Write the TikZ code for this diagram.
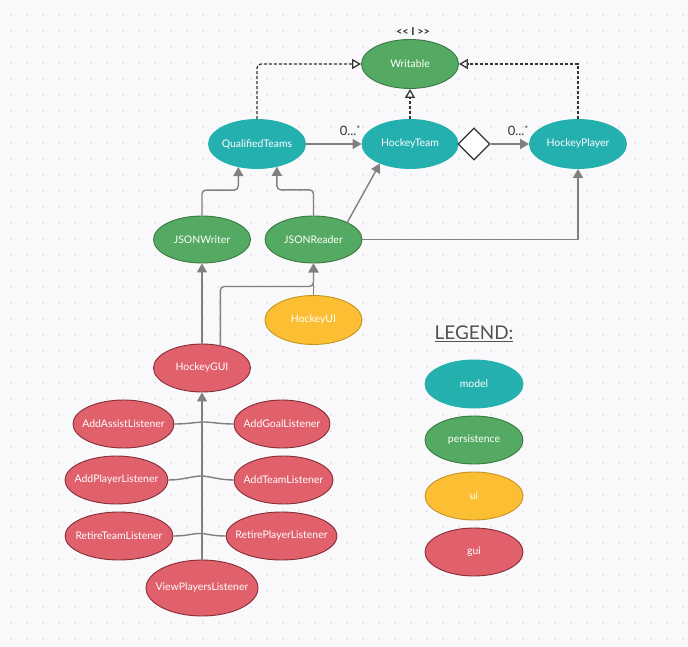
\documentclass[tikz,border=0pt]{standalone}
\usepackage{fontspec}
\setmainfont{Lato}
\usetikzlibrary{shapes.geometric,arrows.meta,calc}
\definecolor{bg}{HTML}{F9F9FB}
\definecolor{dotc}{HTML}{D8D8DE}
\definecolor{mteal}{RGB}{36,176,175}
\definecolor{mgreen}{RGB}{84,170,98}
\definecolor{mgreenb}{RGB}{56,122,64}
\definecolor{myel}{RGB}{252,190,50}
\definecolor{myelb}{RGB}{196,148,40}
\definecolor{mred}{RGB}{224,96,108}
\definecolor{mredb}{RGB}{132,46,56}
\definecolor{mgray}{RGB}{128,128,128}
\definecolor{dk}{RGB}{51,51,51}
\newcommand{\lbl}[1]{\makebox[0pt]{#1}}
\tikzset{
  ell/.style={ellipse, minimum width=97bp, minimum height=49bp, inner sep=0pt,
    text=white, font=\fontsize{10.5}{12}\selectfont, line width=0.9bp},
  model/.style={ell, fill=mteal, draw=mteal},
  pers/.style={ell, fill=mgreen, draw=mgreenb},
  uis/.style={ell, fill=myel, draw=myelb},
  guis/.style={ell, fill=mred, draw=mredb},
  conn/.style={draw=mgray, line width=1.4bp, -{Triangle[length=9bp,width=10bp]}},
  wire/.style={draw=mgray, line width=1.4bp},
  real/.style={draw=dk, line width=1.3bp, dash pattern=on 3bp off 2bp,
    -{Triangle[open,length=9bp,width=10bp,fill=white]}},
  mult/.style={text=dk, font=\fontsize{13}{14}\selectfont, inner sep=0pt}
}
\begin{document}
\begin{tikzpicture}[x=1bp,y=-1bp]
\fill[bg] (0,0) rectangle (688,647);
\useasboundingbox (0,0) rectangle (688,647);
\foreach \i in {0,...,42} \foreach \j in {0,...,39}
  \fill[dotc] (11+16*\i,15+16*\j) circle (0.8);

% nodes
\node[pers] (wr) at (410,64) {\lbl{Writable}};
\node[text=dk, font=\bfseries\fontsize{11}{12}\selectfont, inner sep=0pt] (st) at (413,32) {<{}< I >{}>};
\node[model] (qt) at (257,144) {\lbl{QualifiedTeams}};
\node[model, minimum width=96bp] (ht) at (410,144) {\lbl{HockeyTeam}};
\node[model] (hp) at (578,144) {\lbl{HockeyPlayer}};
\node[diamond, draw=dk, fill=white, line width=1.3bp, minimum width=32bp, minimum height=32bp, inner sep=0pt] (dm) at (474,144) {};
\node[pers, minimum height=47bp] (jw) at (202,239.5) {\lbl{JSONWriter}};
\node[pers, minimum height=47bp] (jr) at (313.5,239.5) {\lbl{JSONReader}};
\node[uis] (hui) at (313.5,320) {\lbl{HockeyUI}};
\node[guis, minimum height=48bp] (hg) at (202,368) {\lbl{HockeyGUI}};
\node[guis, minimum width=101bp, minimum height=48bp] (aal) at (123.5,424) {\lbl{AddAssistListener}};
\node[guis, minimum width=96bp, minimum height=48bp] (agl) at (282,424) {\lbl{AddGoalListener}};
\node[guis, minimum width=103bp, minimum height=48bp] (apl) at (116.5,480) {\lbl{AddPlayerListener}};
\node[guis, minimum width=99bp, minimum height=48bp] (atl) at (283.5,480) {\lbl{AddTeamListener}};
\node[guis, minimum width=108bp, minimum height=48bp] (rtl) at (119,536) {\lbl{RetireTeamListener}};
\node[guis, minimum width=111bp, minimum height=48bp] (rpl) at (281.5,536) {\lbl{RetirePlayerListener}};
\node[guis, minimum width=112bp, minimum height=56bp] (vpl) at (202,588) {\lbl{ViewPlayersListener}};

% legend
\node[text=dk!85, font=\fontsize{19}{20}\selectfont, inner sep=0pt] (lg) at (474,334) {\underline{LEGEND:}};
\node[model, minimum width=98bp, minimum height=48bp] (lm) at (474,384) {\lbl{model}};
\node[pers, minimum width=98bp, minimum height=48bp] (lp) at (474,440) {\lbl{persistence}};
\node[uis, minimum width=98bp, minimum height=48bp] (lu) at (474,496) {\lbl{ui}};
\node[guis, minimum width=98bp, minimum height=48bp] (lgui) at (474,552) {\lbl{gui}};

% realization (dashed)
\draw[real, rounded corners=4bp] (qt.north) |- (wr.west);
\draw[real] (ht.north) -- (wr.south);
\draw[real] (hp.north) |- (wr.east);

% associations
\draw[conn] (qt.east) -- (ht.west);
\node[mult] (m1) at (350,131) {0...\raisebox{0.5ex}{\fontsize{9}{10}\selectfont *}};
\draw[conn] (dm.east) -- (hp.west);
\node[mult] (m2) at (518,131) {0...\raisebox{0.5ex}{\fontsize{9}{10}\selectfont *}};

% persistence dependencies
\draw[conn, rounded corners=4bp] (jw.north) |- ($(qt.231.6)+(0,23)$) -- (qt.231.6);
\draw[conn, rounded corners=4bp] (jr.north) |- ($(qt.311.9)+(0,23)$) -- (qt.311.9);
\draw[conn] (jr.27) -- (ht.213);
\draw[conn] (jr.east) -| (hp.south);

% gui dependencies
\draw[conn] (hg.north) -- (jw.south);
\draw[conn, rounded corners=4bp] (hg.51) |- ($(jr.south)+(0,23)$) -- (jr.south);
\draw[conn] (hui.north) -- (jr.south);

% listeners
\foreach \l/\r/\b in {aal/agl/2, apl/atl/4, rtl/rpl/2.5}
  \draw[wire] (\l.east) .. controls +(14,0) and +(-8,0) .. ($(\l.east)!.5!(\r.west)+(0,-\b)$)
     .. controls +(8,0) and +(-14,0) .. (\r.west);
\draw[conn] (vpl.north) -- (hg.south);
\end{tikzpicture}
\end{document}
